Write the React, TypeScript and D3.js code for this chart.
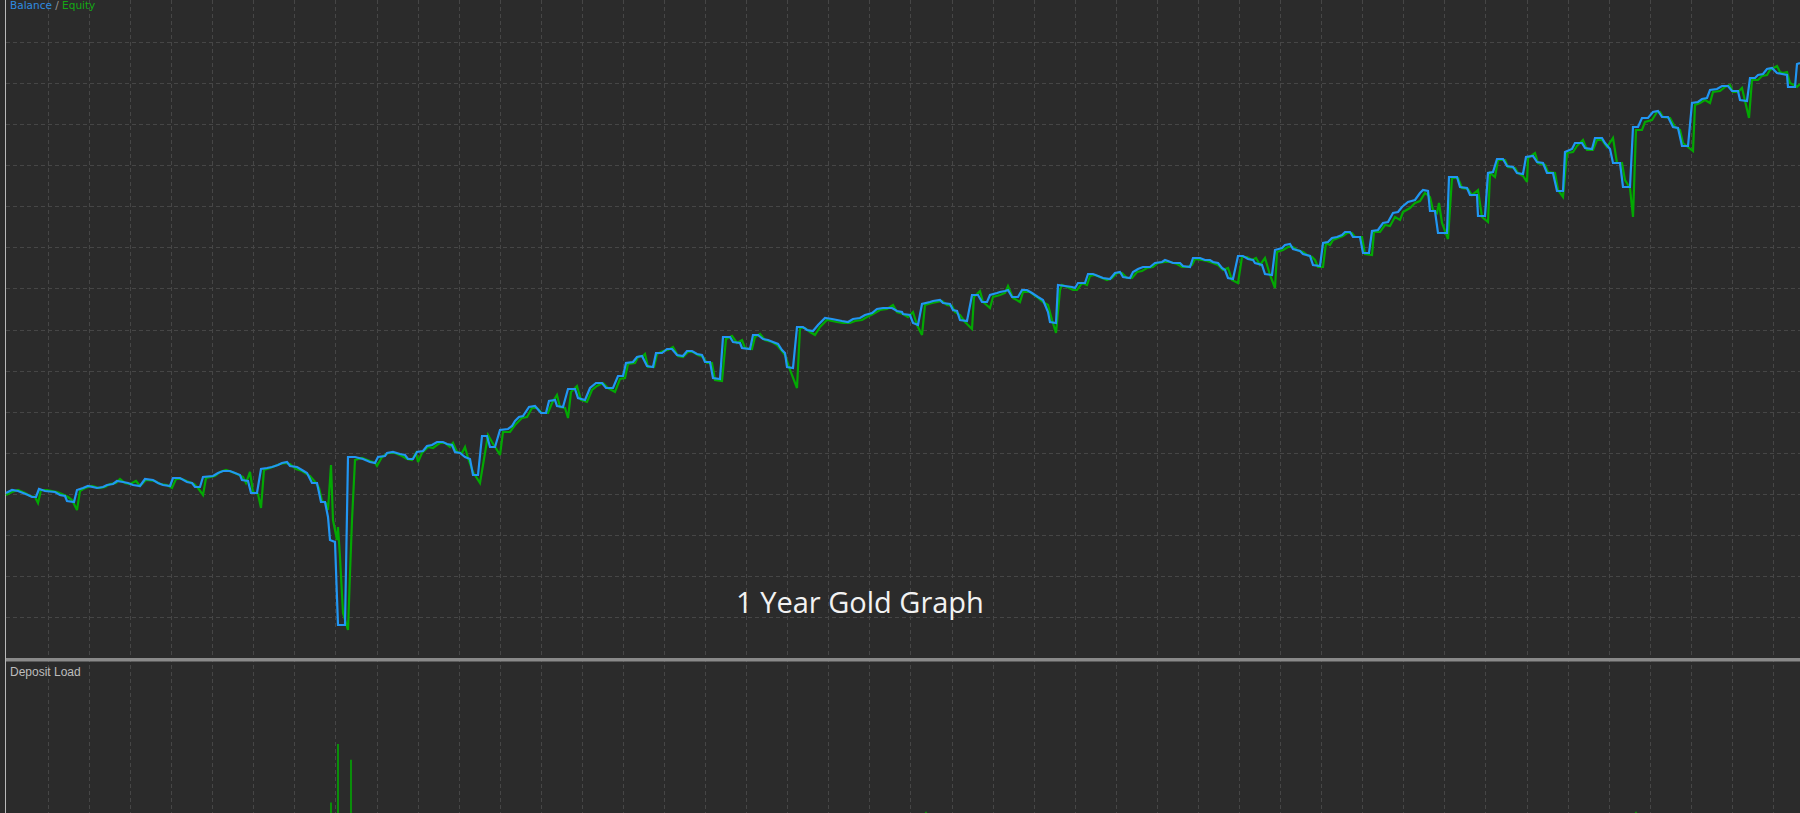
import React, { useEffect } from "react";
import * as d3 from "d3";

// ---- Data ----
// time axis: arbitrary time units across one year of trading (0..1794)
// value axis: account value units (0..6600)
const balance: [number, number][] = [
  [0,1670],[6,1700],[12,1690],[17,1670],[22,1650],[26,1630],[30,1630],[33,1710],[39,1690],[49,1680],
  [54,1650],[59,1640],[61,1590],[68,1580],[71,1700],[77,1720],[82,1740],[91,1720],[97,1730],[101,1750],
  [107,1760],[111,1790],[117,1780],[122,1770],[127,1750],[134,1740],[139,1810],[147,1800],[152,1770],[157,1750],
  [164,1740],[167,1820],[174,1820],[181,1780],[186,1770],[189,1730],[194,1730],[197,1830],[207,1840],[212,1870],
  [217,1890],[224,1890],[229,1870],[234,1850],[236,1800],[242,1790],[245,1670],[251,1670],[255,1910],[261,1920],
  [266,1930],[272,1950],[276,1970],[281,1980],[284,1940],[291,1930],[296,1900],[301,1870],[306,1770],[311,1770],
  [315,1580],[319,1580],[322,1430],[324,1200],[329,1180],[331,620],[332,350],[339,350],[342,2030],[349,2030],
  [357,2010],[364,1980],[369,1970],[372,2030],[379,2040],[381,2070],[387,2080],[394,2060],[399,2050],[402,2010],
  [407,2010],[411,2080],[417,2090],[421,2140],[426,2150],[431,2180],[437,2180],[441,2160],[446,2150],[449,2080],
  [454,2070],[459,2030],[464,2010],[467,1850],[472,1850],[476,2240],[481,2240],[484,2130],[489,2130],[494,2300],
  [502,2310],[506,2340],[509,2390],[513,2430],[517,2440],[523,2530],[529,2540],[535,2470],[540,2470],[543,2590],
  [549,2600],[551,2540],[557,2530],[562,2710],[569,2710],[572,2620],[579,2600],[584,2720],[590,2770],[596,2770],
  [600,2720],[607,2720],[612,2840],[617,2840],[620,2970],[627,2980],[631,3030],[636,3040],[641,2940],[647,2930],
  [650,3070],[656,3070],[661,3110],[666,3110],[671,3050],[677,3040],[681,3090],[686,3090],[691,3060],[696,3050],
  [699,2980],[704,2980],[707,2820],[714,2810],[717,3230],[724,3230],[727,3180],[734,3170],[736,3120],[744,3110],
  [747,3250],[752,3250],[757,3210],[762,3200],[767,3180],[772,3160],[776,3100],[779,3070],[781,2930],[787,2920],
  [791,3330],[797,3330],[801,3300],[807,3290],[812,3350],[819,3420],[826,3410],[831,3400],[836,3390],[842,3380],
  [847,3410],[854,3420],[859,3450],[866,3470],[871,3510],[877,3520],[886,3520],[891,3490],[896,3480],[897,3460],
  [904,3450],[907,3370],[912,3350],[916,3560],[924,3580],[927,3590],[934,3600],[937,3570],[944,3560],[947,3500],
  [951,3490],[954,3400],[961,3390],[966,3650],[972,3650],[976,3580],[981,3580],[984,3650],[991,3670],[994,3680],
  [999,3690],[1002,3700],[1006,3630],[1012,3630],[1016,3700],[1021,3700],[1026,3670],[1032,3630],[1037,3600],[1042,3480],
  [1044,3380],[1050,3370],[1052,3750],[1059,3740],[1066,3730],[1069,3720],[1072,3770],[1079,3770],[1082,3860],[1087,3860],
  [1092,3840],[1097,3820],[1104,3810],[1109,3870],[1114,3880],[1117,3830],[1124,3820],[1127,3880],[1132,3910],[1137,3930],
  [1144,3930],[1149,3970],[1156,3980],[1159,4000],[1162,3990],[1167,3970],[1174,3970],[1177,3940],[1184,3930],[1187,4020],
  [1194,4020],[1199,4000],[1204,4000],[1207,3980],[1212,3970],[1216,3920],[1219,3900],[1222,3820],[1227,3810],[1232,4040],
  [1237,4040],[1242,4010],[1247,4000],[1249,3970],[1256,3950],[1259,3860],[1266,3850],[1269,4100],[1276,4120],[1279,4150],
  [1284,4160],[1287,4110],[1294,4090],[1297,4060],[1304,4040],[1307,3950],[1314,3940],[1317,4170],[1322,4180],[1326,4220],
  [1331,4230],[1336,4250],[1339,4280],[1344,4280],[1347,4230],[1354,4230],[1357,4070],[1363,4070],[1366,4290],[1372,4300],
  [1377,4370],[1382,4380],[1387,4470],[1392,4480],[1396,4530],[1402,4580],[1409,4600],[1414,4670],[1417,4700],[1422,4690],
  [1424,4490],[1429,4490],[1432,4270],[1441,4270],[1443,4830],[1451,4830],[1454,4730],[1461,4720],[1464,4650],[1471,4650],
  [1472,4440],[1479,4440],[1482,4870],[1487,4880],[1491,5010],[1497,5010],[1501,4940],[1507,4930],[1511,4870],[1517,4860],
  [1520,5030],[1527,5040],[1531,4980],[1537,4970],[1541,4870],[1547,4870],[1551,4690],[1557,4690],[1559,5080],[1566,5110],
  [1569,5170],[1576,5170],[1579,5120],[1586,5110],[1589,5220],[1596,5220],[1599,5170],[1604,5110],[1607,4970],[1614,4970],
  [1617,4730],[1624,4730],[1627,5330],[1632,5330],[1636,5420],[1642,5420],[1647,5480],[1652,5490],[1656,5430],[1662,5430],
  [1667,5330],[1672,5320],[1676,5140],[1682,5140],[1686,5570],[1692,5580],[1696,5610],[1701,5620],[1704,5700],[1711,5710],
  [1716,5740],[1722,5740],[1726,5690],[1732,5690],[1734,5600],[1741,5590],[1744,5820],[1749,5820],[1752,5850],[1757,5860],
  [1761,5910],[1766,5920],[1771,5870],[1776,5860],[1781,5850],[1782,5730],[1789,5730],[1791,5960],[1794,5970],
];

const equity: [number, number][] = [
  [0,1650],[6,1680],[12,1700],[19,1670],[24,1640],[29,1630],[32,1570],[35,1700],[41,1700],[51,1680],
  [56,1660],[62,1630],[66,1600],[71,1500],[74,1690],[79,1720],[86,1740],[93,1720],[99,1730],[104,1760],
  [110,1770],[114,1810],[119,1770],[124,1760],[130,1790],[134,1740],[140,1800],[149,1790],[154,1760],[161,1750],
  [166,1720],[170,1810],[176,1810],[183,1780],[188,1760],[192,1720],[197,1650],[200,1820],[209,1840],[214,1880],
  [220,1900],[226,1880],[231,1860],[237,1830],[240,1770],[244,1880],[247,1680],[252,1660],[255,1520],[258,1900],
  [264,1920],[269,1940],[274,1960],[279,1970],[284,1960],[290,1910],[296,1890],[304,1840],[310,1770],[313,1720],
  [316,1590],[320,1570],[322,1500],[325,1950],[327,1400],[331,1200],[332,1330],[334,1030],[337,470],[342,300],
  [344,870],[346,1400],[349,2000],[356,2020],[364,1990],[369,1970],[371,1940],[376,2030],[382,2070],[389,2070],
  [396,2040],[401,2010],[406,2000],[410,2070],[412,1980],[416,2070],[422,2130],[427,2120],[431,2150],[434,2170],
  [439,2170],[444,2130],[447,2170],[451,2080],[456,2070],[459,2130],[462,2020],[467,1880],[474,1770],[479,2070],
  [482,2250],[486,2180],[491,2100],[494,2050],[497,2280],[504,2280],[509,2350],[512,2380],[516,2420],[521,2430],
  [526,2520],[531,2520],[536,2470],[542,2470],[546,2570],[551,2650],[554,2530],[559,2520],[562,2420],[565,2680],
  [571,2740],[575,2600],[581,2580],[586,2700],[591,2740],[597,2770],[602,2720],[609,2680],[614,2810],[619,2820],
  [622,2960],[629,2970],[632,3030],[637,3040],[639,3060],[642,2930],[648,2930],[651,3060],[657,3090],[662,3100],
  [667,3130],[672,3040],[677,3030],[682,3080],[687,3080],[692,3050],[697,3030],[701,2970],[706,2970],[709,2800],
  [716,2790],[720,3210],[726,3240],[731,3170],[736,3200],[739,3120],[746,3110],[749,3230],[754,3260],[759,3200],
  [766,3180],[771,3150],[776,3090],[779,3050],[784,2900],[791,2720],[794,3320],[799,3320],[804,3280],[809,3250],
  [814,3330],[821,3400],[826,3390],[831,3380],[837,3370],[844,3370],[849,3390],[856,3400],[861,3430],[867,3460],
  [874,3500],[881,3510],[887,3550],[891,3480],[897,3460],[902,3430],[907,3480],[911,3350],[916,3250],[919,3550],
  [926,3570],[931,3580],[936,3590],[941,3550],[946,3540],[949,3480],[954,3450],[959,3380],[966,3310],[968,3630],
  [974,3690],[977,3580],[984,3520],[987,3630],[994,3650],[999,3670],[1002,3740],[1007,3620],[1014,3580],[1017,3680],
  [1024,3680],[1031,3630],[1037,3580],[1042,3550],[1046,3400],[1050,3270],[1054,3700],[1056,3750],[1061,3730],[1067,3700],
  [1071,3700],[1076,3770],[1081,3750],[1084,3840],[1089,3850],[1096,3820],[1101,3800],[1106,3820],[1111,3870],[1116,3870],
  [1121,3820],[1126,3820],[1131,3880],[1136,3890],[1141,3920],[1147,3930],[1152,3970],[1159,3980],[1164,3980],[1171,3960],
  [1176,3930],[1181,3930],[1186,3950],[1189,4010],[1196,4000],[1201,3990],[1207,3970],[1212,3950],[1217,3900],[1222,3920],
  [1226,3800],[1232,3770],[1236,4030],[1241,4030],[1246,4000],[1250,4020],[1254,3950],[1259,4020],[1264,3850],[1269,3720],
  [1271,4080],[1277,4100],[1282,4130],[1287,4130],[1291,4100],[1297,4080],[1301,4050],[1306,4030],[1309,4000],[1312,3930],
  [1317,3930],[1320,4170],[1324,4150],[1327,4200],[1332,4220],[1337,4240],[1341,4270],[1346,4270],[1349,4230],[1356,4230],
  [1359,4060],[1366,4050],[1368,4280],[1374,4280],[1379,4350],[1384,4340],[1389,4430],[1394,4400],[1397,4480],[1404,4520],
  [1409,4570],[1414,4590],[1419,4670],[1424,4630],[1427,4500],[1431,4470],[1433,4570],[1436,4370],[1442,4210],[1446,4820],
  [1452,4820],[1456,4720],[1462,4710],[1466,4650],[1472,4700],[1476,4430],[1482,4380],[1484,4870],[1489,4830],[1492,5000],
  [1499,5000],[1502,4930],[1509,4920],[1512,4870],[1517,4840],[1521,4780],[1522,5020],[1529,5070],[1532,4970],[1539,4950],
  [1542,4880],[1549,4870],[1552,4700],[1557,4630],[1561,5070],[1567,5080],[1571,5140],[1577,5200],[1581,5100],[1587,5100],
  [1591,5200],[1596,5200],[1601,5130],[1607,5220],[1611,4970],[1616,4970],[1619,4800],[1624,4720],[1627,4430],[1630,5300],
  [1636,5300],[1639,5380],[1646,5400],[1651,5480],[1654,5480],[1657,5430],[1664,5420],[1669,5330],[1674,5300],[1677,5170],
  [1682,5130],[1687,5090],[1689,5550],[1694,5570],[1699,5600],[1704,5570],[1707,5680],[1714,5690],[1719,5730],[1724,5750],
  [1727,5680],[1732,5680],[1736,5720],[1739,5590],[1743,5420],[1746,5800],[1752,5800],[1756,5840],[1761,5850],[1764,5900],
  [1771,5940],[1774,5880],[1777,5870],[1781,5880],[1784,5770],[1791,5730],[1794,5760],
];

// deposit load (%), time units as above
const depositLoadTime = [325, 332, 345, 920, 1630];
const depositLoadValue = [8, 53, 41, 1, 1];

const legendParts = [
  { text: "Balance", color: "#2f8be0" },
  { text: " / ", color: "#9a9a9a" },
  { text: "Equity", color: "#14a814" },
];
const titleText = "1 Year Gold Graph";
const lowerPanelTitle = "Deposit Load";

const W = 1800;
const H = 813;

export default function App() {
  useEffect(() => {
    document.body.style.margin = "0";
    document.body.style.background = "#2b2b2b";
  }, []);

  const x = d3.scaleLinear().domain([0, 1794]).range([6, 1800]);
  const y = d3.scaleLinear().domain([0, 6600]).range([660, 0]);
  const yLoad = d3.scaleLinear().domain([0, 100]).range([813, 683]);

  const line = d3
    .line<[number, number]>()
    .x((d) => x(d[0]))
    .y((d) => y(d[1]));

  const gridStep = 41.07;
  const vLines = d3.range(0, 43).map((k) => 48 + k * gridStep).filter((v) => v < W);
  const hLines = d3.range(1, 16).map((k) => 1 + k * gridStep).filter((v) => v < 650);

  return (
    <svg
      width={W}
      height={H}
      style={{ position: "fixed", left: 0, top: 0, display: "block", background: "#2b2b2b" }}
    >
      <rect x={0} y={0} width={W} height={H} fill="#2b2b2b" />
      {/* grid */}
      <g stroke="#464646" strokeWidth={1} strokeDasharray="4,3">
        {vLines.map((v, i) => (
          <line key={"v" + i} x1={Math.round(v) + 0.5} x2={Math.round(v) + 0.5} y1={0} y2={H} />
        ))}
        {hLines.map((v, i) => (
          <line key={"h" + i} x1={6} x2={W} y1={Math.round(v) + 0.5} y2={Math.round(v) + 0.5} />
        ))}
      </g>
      {/* left axis */}
      <line x1={5.5} x2={5.5} y1={0} y2={H} stroke="#b8b8b8" strokeWidth={1} />
      {/* separator */}
      <rect x={6} y={658} width={W - 6} height={3.5} fill="#8a8a8a" />

      {/* equity then balance */}
      <path d={line(equity) || ""} fill="none" stroke="#03a803" strokeWidth={2.2} strokeLinejoin="miter" strokeMiterlimit={3} />
      <path d={line(balance) || ""} fill="none" stroke="#2196f3" strokeWidth={2.2} strokeLinejoin="miter" strokeMiterlimit={3} />

      {/* deposit load */}
      <g stroke="#03a803" strokeWidth={1.6}>
        {depositLoadTime.map((t, i) => (
          <line key={i} x1={x(t)} x2={x(t)} y1={yLoad(0)} y2={yLoad(depositLoadValue[i])} />
        ))}
      </g>

      {/* legend */}
      <text x={10} y={9} fontFamily="'DejaVu Sans', Verdana, sans-serif" fontSize={10.5}>
        {legendParts.map((p, i) => (
          <tspan key={i} fill={p.color}>
            {p.text}
          </tspan>
        ))}
      </text>
      <text x={10} y={676} fontFamily="'Liberation Sans', Arial, sans-serif" fontSize={12} fill="#bdbdbd">
        {lowerPanelTitle}
      </text>
      <text
        x={860}
        y={613}
        textAnchor="middle"
        fontFamily="'Open Sans', 'Noto Sans', sans-serif"
        fontSize={29}
        fill="#f2f2f2"
      >
        {titleText}
      </text>
    </svg>
  );
}
